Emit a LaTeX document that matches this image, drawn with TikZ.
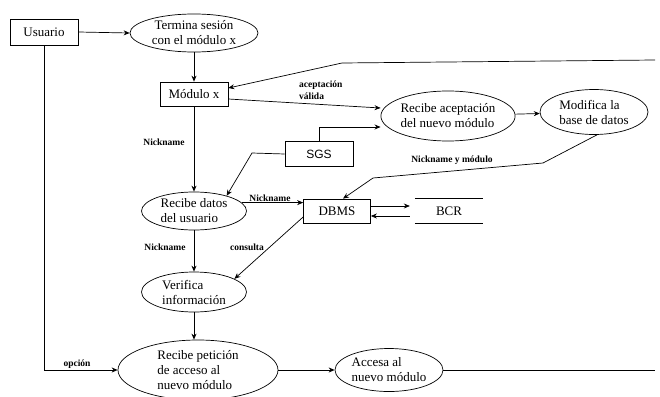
\documentclass[tikz,border=0pt]{standalone}
\usepackage{fontspec}
\setmainfont{Liberation Serif}
\usetikzlibrary{shapes.geometric,arrows.meta}
\newfontfamily\lblfam{Liberation Serif}
\newfontfamily\sgsfam{Liberation Sans}
\begin{document}
\begin{tikzpicture}[x=1pt,y=-1pt,
  every node/.style={font=\fontsize{13}{15}\selectfont},
  boxnode/.style={draw,rectangle,inner sep=0pt,line width=0.7pt},
  procnode/.style={draw,ellipse,inner sep=0pt,align=center,line width=0.7pt},
  storenode/.style={rectangle,inner sep=0pt,minimum width=68pt,minimum height=24pt},
  lbl/.style={font=\lblfam\bfseries\fontsize{9.5}{11.5}\selectfont,inner sep=0pt},
  arr/.style={-{Stealth[length=6pt,width=5pt]},line width=0.7pt},
  plain/.style={line width=0.7pt}]
\useasboundingbox (0,0) rectangle (660,396);

% nodes
\node[boxnode,minimum width=68pt,minimum height=26pt] (usuario) at (44,32) {Usuario};
\node[procnode,minimum width=128pt,minimum height=38pt] (termina) at (194,33) {Termina sesión\\con el módulo x};
\node[boxnode,minimum width=68pt,minimum height=24pt] (modulo) at (194,94) {Módulo x};
\node[procnode,minimum width=130pt,minimum height=50pt,align=left] (recacep) at (448,116) {Recibe aceptación\\del nuevo módulo};
\node[procnode,minimum width=108pt,minimum height=45pt,align=left] (modif) at (594,112) {Modifica la\\base de datos};
\node[boxnode,minimum width=68pt,minimum height=25pt,font=\sgsfam\fontsize{12}{14}\selectfont] (sgs) at (319,154) {SGS};
\node[procnode,minimum width=105pt,minimum height=38pt,align=left] (recdatos) at (194,211) {Recibe datos\\del usuario};
\node[boxnode,minimum width=67pt,minimum height=24pt] (dbms) at (337,211) {DBMS};
\node[storenode] (bcr) at (449,211) {BCR};
\node[procnode,minimum width=105pt,minimum height=40pt,align=left] (verifica) at (194,292) {Verifica\\información};
\node[procnode,minimum width=160pt,minimum height=60pt,align=left] (recpet) at (198,370) {Recibe petición\\de acceso al\\nuevo módulo};
\node[procnode,minimum width=108pt,minimum height=43pt,align=left] (accesa) at (389,370) {Accesa al\\nuevo módulo};

% labels
\node[lbl,align=left,anchor=west] (lacep) at (299,90) {aceptación\\válida};
\node[lbl] (lnick1) at (164,142) {Nickname};
\node[lbl] (lnick2) at (270,198) {Nickname};
\node[lbl] (lnick3) at (165,247) {Nickname};
\node[lbl] (lcons) at (247,247) {consulta};
\node[lbl] (lnym) at (452,160) {Nickname y módulo};
\node[lbl] (lopc) at (77,364) {opción};

% coordinates
\coordinate (tr) at (655,60);
\coordinate (b1) at (342,63);
\coordinate (b2) at (543,163);
\coordinate (b3) at (373,178);
\coordinate (b4) at (252,153);
\coordinate (endr) at (655,370);

% BCR store lines
\draw[plain] (bcr.north west) -- (bcr.north east);
\draw[plain] (bcr.south west) -- (bcr.south east);

% connectors
\draw[arr] (usuario.east) -- (termina.west);
\draw[arr] (termina.south) -- (modulo.north);
\draw[arr] (tr) -- (b1) -- ([yshift=6pt]modulo.east);
\draw[arr] ([yshift=-5pt]modulo.east) -- ([yshift=8pt]recacep.west);
\draw[arr] (sgs.north) |- ([yshift=-11pt]recacep.west);
\draw[arr] (recacep) -- (modif);
\draw[arr] ([xshift=3pt]modif.south) -- (b2) -- (b3) -- ([xshift=6pt]dbms.north);
\draw[arr] (sgs.west) -- (b4) -- (recdatos.25);
\draw[arr] (modulo.south) -- (recdatos.north);
\draw[arr] (recdatos.10) -- (recdatos.10 -| dbms.west);
\draw[arr,shorten >=5pt] ([yshift=5pt]dbms.east) -- ([yshift=5pt]bcr.west);
\draw[arr,shorten <=5pt] ([yshift=-5pt]bcr.west) -- ([yshift=-5pt]dbms.east);
\draw[arr] ([yshift=-6pt]dbms.west) -- (verifica.18);
\draw[arr] (recdatos.south) -- (verifica.north);
\draw[arr] (verifica.south) -- (verifica.south |- recpet.north);
\draw[arr] (usuario.south) |- (recpet.west);
\draw[arr] (recpet.east) -- (accesa.west);
\draw[plain] (accesa.east) -- (endr);
\end{tikzpicture}
\end{document}
